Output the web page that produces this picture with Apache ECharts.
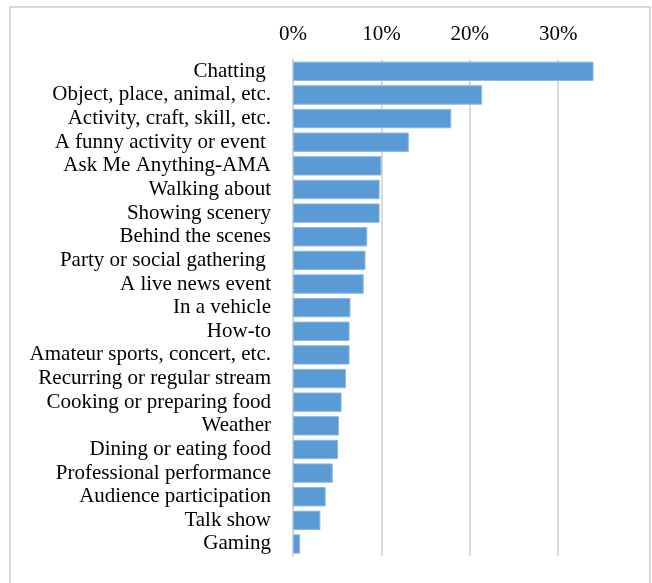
<!DOCTYPE html>
<html>
<head>
<meta charset="utf-8">
<script src="https://cdn.jsdelivr.net/npm/echarts@6/dist/echarts.min.js"></script>
<style>
  html, body { margin: 0; padding: 0; background: #fff; }
  #frame { position: absolute; left: 9px; top: 6px; width: 642px; height: 620px; border: 2px solid #d9d9d9; box-sizing: border-box; }
  #chart { position: absolute; left: 0; top: 0; width: 652px; height: 583px; }
</style>
</head>
<body>
<div id="frame"></div>
<div id="chart"></div>
<script>
const categories = [
  "Chatting ",
  "Object, place, animal, etc.",
  "Activity, craft, skill, etc.",
  "A funny activity or event ",
  "Ask Me Anything-AMA",
  "Walking about",
  "Showing scenery",
  "Behind the scenes",
  "Party or social gathering ",
  "A live news event",
  "In a vehicle",
  "How-to",
  "Amateur sports, concert, etc.",
  "Recurring or regular stream",
  "Cooking or preparing food",
  "Weather",
  "Dining or eating food",
  "Professional performance",
  "Audience participation",
  "Talk show",
  "Gaming"
];
const values = [
  0.340, 0.214, 0.179, 0.131, 0.100, 0.098, 0.098, 0.084, 0.082, 0.080,
  0.065, 0.064, 0.064, 0.060, 0.055, 0.052, 0.051, 0.045, 0.037, 0.031, 0.008
];
const xTicks = [0, 0.1, 0.2, 0.3];

const chart = echarts.init(document.getElementById('chart'), null, { renderer: 'canvas' });
const font = '"Liberation Serif", "Times New Roman", serif';
chart.setOption({
  animation: false,
  grid: { left: 293, right: 49.6, top: 59.5, bottom: 27.2, containLabel: false },
  xAxis: {
    type: 'value',
    position: 'top',
    min: 0,
    max: 0.35,
    interval: 0.1,
    axisLine: { show: false },
    axisTick: { show: false },
    axisLabel: {
      showMaxLabel: false,
      margin: 15,
      color: '#000',
      fontFamily: font,
      fontSize: 21,
      formatter: function (v) {
        return xTicks.indexOf(Math.round(v * 10) / 10) >= 0 ? Math.round(v * 100) + '%' : '';
      }
    },
    splitLine: { show: true, showMaxLine: false, lineStyle: { color: '#d9d9d9', width: 2 } }
  },
  yAxis: {
    type: 'category',
    inverse: true,
    data: categories,
    axisLine: { show: true, lineStyle: { color: '#d4d4d4', width: 2 } },
    axisTick: { show: false },
    axisLabel: {
      margin: 22,
      color: '#000',
      fontFamily: font,
      fontSize: 21,
      interval: 0
    }
  },
  series: [{
    type: 'bar',
    data: values,
    barCategoryGap: '18%',
    itemStyle: { color: '#5b9bd5', borderColor: '#8db8e3', borderWidth: 1 }
  }]
});
</script>
</body>
</html>
